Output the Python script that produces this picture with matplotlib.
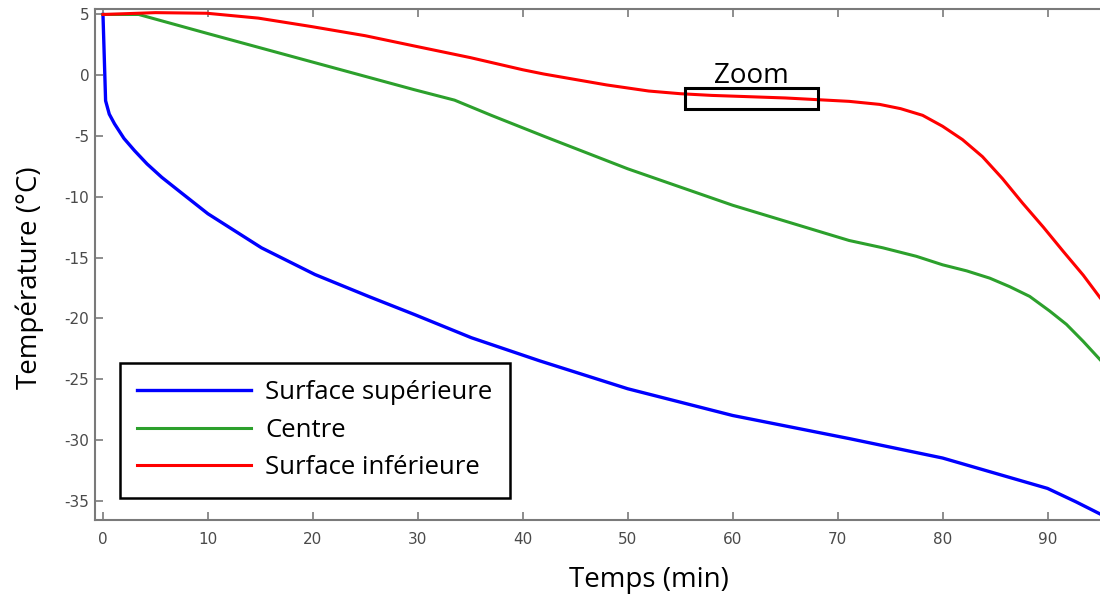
"""Temperature profiles during freezing."""

import matplotlib
matplotlib.use("Agg")
import matplotlib.pyplot as plt
from matplotlib.patches import Rectangle

plt.rcParams["axes.unicode_minus"] = False

# values (time in min, temperature in degC)
t_sup = [0, 0.25, 0.6, 1.1, 2.0, 3.0, 4.2, 5.6, 7.5, 10.0, 15.1, 20.2, 25.3,
         29.7, 35.1, 41.6, 50, 60, 71.1, 80, 86.4, 90, 92.7, 95]
T_sup = [5.0, -2.1, -3.2, -4.0, -5.2, -6.2, -7.3, -8.4, -9.7, -11.4, -14.2,
         -16.4, -18.2, -19.7, -21.6, -23.5, -25.8, -28.0, -29.9, -31.5, -33.1,
         -34.0, -35.1, -36.1]

t_centre = [0, 3.4, 9.9, 19.9, 29.7, 33.5, 37, 42.1, 50, 60, 71.1, 74.3,
            77.5, 80, 82.3, 84.5, 86.4, 88.3, 90.2, 91.8, 93.4, 95]
T_centre = [5.0, 5.0, 3.45, 1.1, -1.2, -2.05, -3.3, -5.05, -7.7, -10.7, -13.6,
            -14.2, -14.9, -15.6, -16.1, -16.7, -17.4, -18.2, -19.4, -20.5,
            -21.9, -23.4]

t_inf = [0, 5, 9.9, 14.8, 19.9, 25, 29.7, 35, 40, 42, 44, 46, 48, 50, 52, 55,
         58, 65, 71.1, 74, 76, 78.1, 80, 81.9, 83.8, 85.7, 87.6, 89.6, 91.5,
         93.4, 95]
T_inf = [5.0, 5.15, 5.1, 4.7, 4.0, 3.25, 2.4, 1.45, 0.45, 0.1, -0.2, -0.5,
         -0.8, -1.05, -1.3, -1.52, -1.66, -1.87, -2.15, -2.4, -2.75, -3.3,
         -4.2, -5.3, -6.7, -8.5, -10.5, -12.5, -14.5, -16.45, -18.3]

labels = ["Surface supérieure", "Centre", "Surface inférieure"]
x_ticks = [0, 10, 20, 30, 40, 50, 60, 70, 80, 90]
y_ticks = [5, 0, -5, -10, -15, -20, -25, -30, -35]
zoom_box = (55.5, -2.8, 12.6, 1.73)  # x, y, width, height in data units

W, H = 1100, 597
fig = plt.figure(figsize=(W / 100, H / 100), dpi=100)
ax = fig.add_axes([95 / W, 1 - 520 / H, 1 - 95 / W, (520 - 9) / H])

ax.plot(t_sup, T_sup, color="#0000ff", lw=2.4, label=labels[0])
ax.plot(t_centre, T_centre, color="#2ca02c", lw=2.2, label=labels[1])
ax.plot(t_inf, T_inf, color="#ff0000", lw=2.2, label=labels[2])

ax.set_xlim(-0.76, 95)
ax.set_ylim(-36.6, 5.45)
ax.set_xticks(x_ticks)
ax.set_yticks(y_ticks)

gray = "#7a7a7a"
for side in ["left", "bottom", "top"]:
    ax.spines[side].set_color(gray)
    ax.spines[side].set_linewidth(1.5)
ax.spines["right"].set_visible(False)
ax.tick_params(direction="in", length=6, width=1.2, color=gray,
               labelsize=11, labelcolor="#4a4a4a", top=True, right=False)
ax.tick_params(axis="x", pad=9)
ax.tick_params(axis="y", pad=4)

# zoom box
ax.add_patch(Rectangle(zoom_box[:2], zoom_box[2], zoom_box[3], fill=False,
                       edgecolor="black", lw=2.2, zorder=5))
ax.text(zoom_box[0] + zoom_box[2] / 2, -0.66, "Zoom",
        ha="center", va="baseline", fontsize=20, family="Open Sans")

fig.text(30 / W, 1 - 278 / H, "Température (°C)", rotation=90, ha="center",
         va="center", fontsize=20, family="Open Sans")
fig.text(649 / W, 1 - 580 / H, "Temps (min)", ha="center", va="center",
         fontsize=20, family="Open Sans")

leg = ax.legend(loc="upper left", bbox_to_anchor=(120 / W, 1 - 363 / H),
                bbox_transform=fig.transFigure, borderaxespad=0,
                prop={"family": "Open Sans", "size": 18.5}, fancybox=False,
                framealpha=1, edgecolor="black", handlelength=4.4,
                handletextpad=0.58, borderpad=0.68, labelspacing=0.48)
leg.get_frame().set_linewidth(1.8)

fig.savefig("out.png", dpi=100)
